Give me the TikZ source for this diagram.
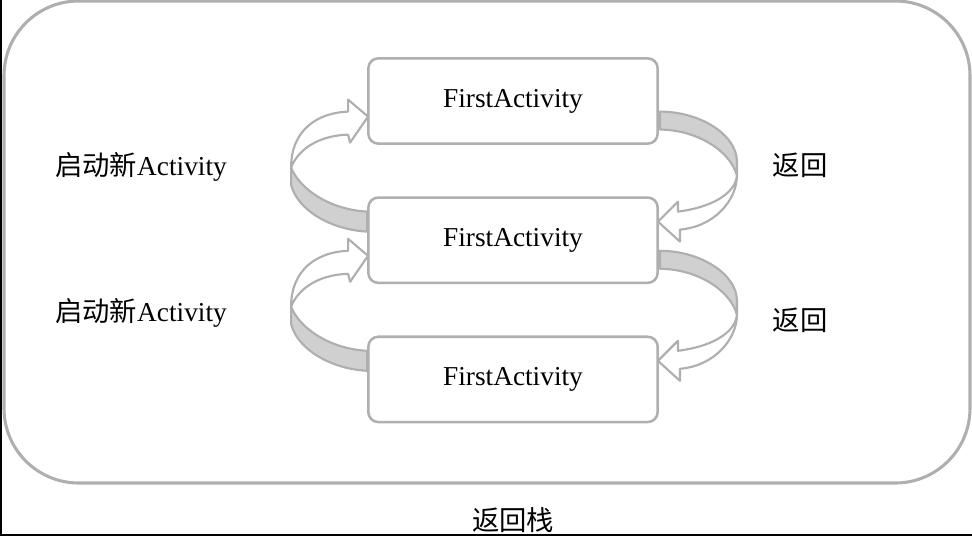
\documentclass[tikz,border=0pt]{standalone}
\usepackage{fontspec}
\setmainfont{Liberation Serif}
\newfontfamily\cjk{Noto Sans CJK SC}
\usetikzlibrary{positioning,calc}
\definecolor{edgegray}{RGB}{175,175,175}
\definecolor{bandgray}{RGB}{208,208,208}

\begin{document}
\begin{tikzpicture}
[
	x=0.75pt, y=-0.75pt,
	font=\fontsize{20.5}{24}\selectfont,
	box/.style={rectangle,rounded corners=7.5pt,draw=edgegray,line width=1.9pt,fill=white,minimum width=217pt,minimum height=64pt},
	band/.style={draw=edgegray,line width=1.6pt,line join=round,fill=bandgray},
	flow/.style={draw=edgegray,line width=1.6pt,line join=round,fill=white},
	node distance=38.5pt,
]
	\useasboundingbox (0,0) rectangle (972,536);

	% stack frame
	\draw[edgegray,line width=2.3pt,rounded corners=56pt] (4,1) rectangle (970,483);
	\draw[black,line width=1.5pt] (1,0) -- (1,535) -- (972,535);

	% activities
	\node[box] (box1) at (513,101) {FirstActivity};
	\node[box,below=of box1] (box2) {FirstActivity};
	\node[box,below=of box2] (box3) {FirstActivity};

	% ribbons between the boxes
	\foreach \u/\l in {box1/box2,box2/box3}{
		\begin{scope}[shift={($(\u.south west)!0.5!(\l.north west)$)}]
			\path[band] (-76,-3) .. controls (-67,19) and (-37,39) .. (0,41) -- (0,61) .. controls (-37,59) and (-70,39) .. (-76,14) -- cycle;
			\path[flow] (-76,-3) .. controls (-76,-41) and (-49,-58) .. (-19,-59) -- (-19,-71) -- (1,-54) -- (-17,-28) -- (-19,-36) .. controls (-49,-35) and (-69,-21) .. (-76,-3) -- cycle;
		\end{scope}
		\begin{scope}[shift={($(\u.south east)!0.5!(\l.north east)$)}]
			\path[band] (1,-59) .. controls (41,-59) and (78,-36) .. (78,-9) -- (78,5) .. controls (71,-21) and (36,-41) .. (1,-41) -- cycle;
			\path[flow] (78,5) .. controls (78,29) and (56,56) .. (21,59) -- (21,71) -- (-1,51) -- (19,31) -- (19,41) .. controls (51,37) and (76,24) .. (78,5) -- cycle;
		\end{scope}
	}

	% labels
	\node (start1) at (141,167) {{\cjk 启动新}Activity};
	\node (start2) at (141,313) {{\cjk 启动新}Activity};
	\node (back1) at (800,165) {\cjk 返回};
	\node (back2) at (800,320) {\cjk 返回};
	\node (stack) at (513,520) {\cjk 返回栈};
\end{tikzpicture}
\end{document}
